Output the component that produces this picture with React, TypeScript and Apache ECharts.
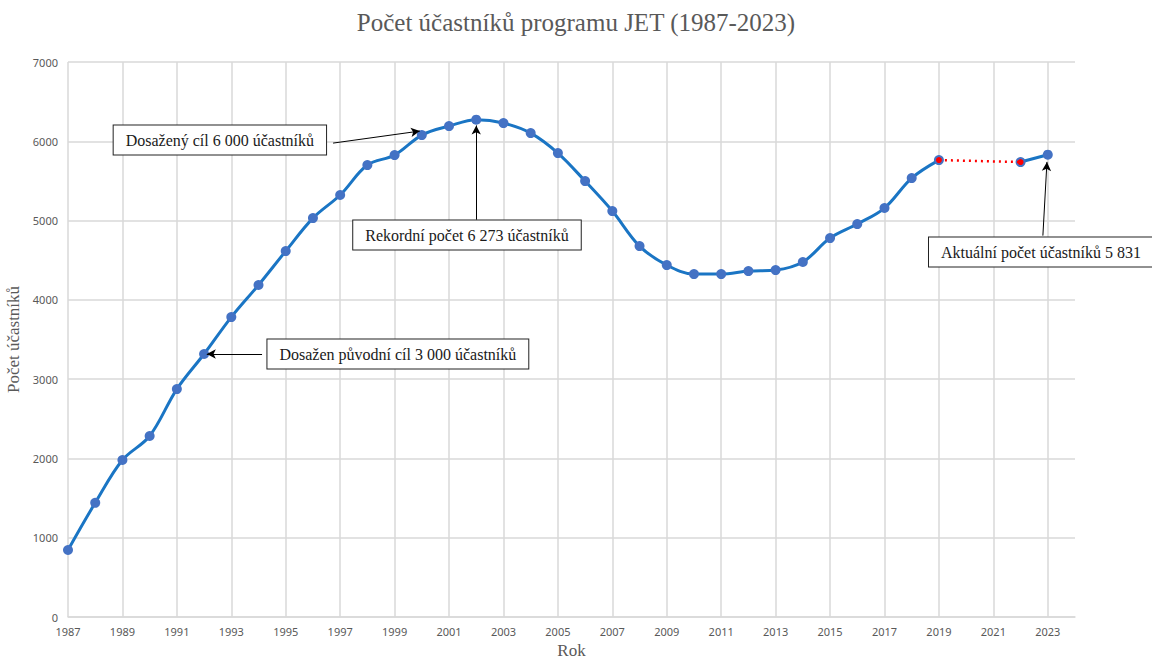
import React, { useEffect, useRef } from "react";
import * as echarts from "echarts";

const years = [
  1987, 1988, 1989, 1990, 1991, 1992, 1993, 1994, 1995, 1996, 1997, 1998,
  1999, 2000, 2001, 2002, 2003, 2004, 2005, 2006, 2007, 2008, 2009, 2010,
  2011, 2012, 2013, 2014, 2015, 2016, 2017, 2018, 2019, 2022, 2023,
];
const participants = [
  845, 1440, 1980, 2283, 2875, 3317, 3783, 4187, 4615, 5031, 5322, 5700,
  5826, 6078, 6192, 6273, 6230, 6103, 5851, 5498, 5120, 4678, 4439, 4325,
  4325, 4363, 4376, 4477, 4779, 4956, 5158, 5536, 5763, 5738, 5831,
];
// missing-data bridge (2019 -> 2022)
const gapYears = [2019, 2022];

const titleText = "Počet účastníků programu JET (1987-2023)";
const xAxisName = "Rok";
const yAxisName = "Počet účastníků";

const noteTexts = [
  "Dosažený cíl 6 000 účastníků",
  "Rekordní počet 6 273 účastníků",
  "Dosažen původní cíl 3 000 účastníků",
  "Aktuální počet účastníků 5 831",
];
// label anchor (data coords) and arrow from/to (data coords)
const noteAnchors = [
  [1992.58, 6015],
  [2001.66, 4817],
  [1999.12, 3317],
  [2022.75, 4603],
];
const arrowFrom = [
  [1996.74, 5977],
  [2001.99, 5010],
  [1994.13, 3317],
  [2022.82, 4810],
];
const arrowTo = [
  [1999.93, 6129],
  [2002.0, 6200],
  [1992.1, 3317],
  [2022.97, 5740],
];

export default function App() {
  const ref = useRef<HTMLDivElement>(null);
  useEffect(() => {
    if (!ref.current) return;
    const chart = echarts.init(ref.current, null, { renderer: "svg" });

    const mainData: any[] = [];
    years.forEach((y, i) => {
      if (i > 0 && y - years[i - 1] > 1) mainData.push([years[i - 1] + 1, "-"]);
      mainData.push([y, participants[i]]);
    });
    const gapData = gapYears.map((y) => [y, participants[years.indexOf(y)]]);

    const serif = "'Liberation Serif', 'Times New Roman', serif";
    const sans = "'Noto Sans', 'Liberation Sans', sans-serif";

    chart.setOption({
      animation: false,
      title: {
        text: titleText,
        left: "center",
        top: 5,
        textStyle: { fontFamily: serif, fontSize: 25, fontWeight: "normal", color: "#595959" },
      },
      grid: { left: 68, right: 77, top: 62, bottom: 43, outerBoundsMode: "none", containLabel: false },
      xAxis: {
        type: "value",
        min: 1987,
        max: 2024,
        interval: 2,
        name: xAxisName,
        nameLocation: "middle",
        nameGap: 24,
        nameTextStyle: { fontFamily: serif, fontSize: 17, color: "#595959" },
        axisLine: { show: true, lineStyle: { color: "#d9d9d9", width: 1.5 } },
        axisTick: { show: false },
        axisLabel: {
          color: "#595959",
          fontFamily: sans,
          fontSize: 11,
          margin: 9,
          showMaxLabel: false,
          formatter: (v: number) => (v > 2023 ? "" : String(v)),
        },
        splitLine: { show: true, showMaxLine: false, lineStyle: { color: "#d9d9d9", width: 1.5 } },
      },
      yAxis: {
        type: "value",
        min: 0,
        max: 7000,
        interval: 1000,
        name: yAxisName,
        nameLocation: "middle",
        nameGap: 44,
        nameTextStyle: { fontFamily: serif, fontSize: 17, color: "#595959" },
        axisLine: { show: false },
        axisTick: { show: false },
        axisLabel: {
          color: "#595959",
          fontFamily: sans,
          fontSize: 11,
          margin: 10,
          formatter: (v: number) => String(v),
        },
        splitLine: { show: true, lineStyle: { color: "#d9d9d9", width: 1.5 } },
      },
      series: [
        {
          type: "line",
          data: mainData,
          smooth: 0.35,
          connectNulls: false,
          symbol: "circle",
          symbolSize: 10,
          itemStyle: { color: "#4472C4" },
          lineStyle: { color: "#1a75c4", width: 3 },
          z: 2,
          markLine: {
            silent: true,
            symbol: ["none", "arrow"],
            symbolSize: [7, 9],
            label: { show: false },
            lineStyle: { color: "#000", width: 1, type: "solid" },
            data: arrowFrom.map((f, i) => [
              { coord: f },
              { coord: arrowTo[i] },
            ]),
          },
          markPoint: {
            silent: true,
            symbol: "rect",
            symbolSize: 0,
            data: noteTexts.map((t, i) => ({
              coord: noteAnchors[i],
              value: t,
              label: {
                show: true,
                position: "inside",
                formatter: t,
                fontFamily: serif,
                fontSize: 16,
                color: "#1a1a1a",
                backgroundColor: "#fff",
                borderColor: "#222",
                borderWidth: 1,
                padding: [7, 12, 6, 12],
              },
            })),
          },
        },
        {
          type: "line",
          data: gapData,
          symbol: "circle",
          symbolSize: 6,
          itemStyle: { color: "#ff0000" },
          lineStyle: { color: "#ff0000", width: 2.5, type: [2, 4] },
          z: 3,
        },
      ],
    });
    return () => chart.dispose();
  }, []);
  return (
    <div
      ref={ref}
      style={{ position: "fixed", left: 0, top: 0, width: 1152, height: 660, background: "#fff" }}
    />
  );
}
